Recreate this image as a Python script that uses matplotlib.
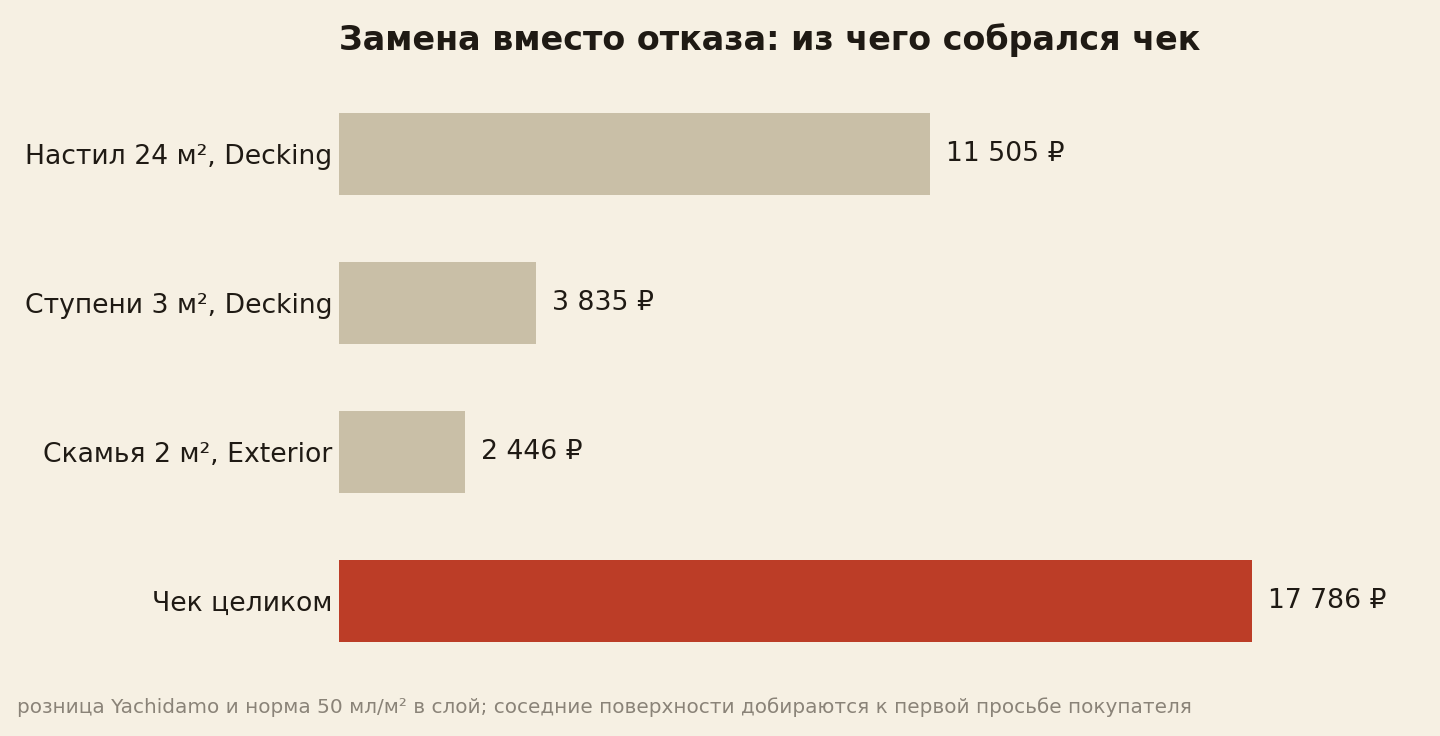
import matplotlib
matplotlib.use('Agg')
import matplotlib.pyplot as plt

plt.rcParams['font.family'] = ['DejaVu Sans']

labels = ['Настил 24 м², Decking', 'Ступени 3 м², Decking', 'Скамья 2 м², Exterior', 'Чек целиком']
values = [11505, 3835, 2446, 17786]
value_labels = ['11 505 ₽', '3 835 ₽', '2 446 ₽', '17 786 ₽']
colors = ['#c9bfa7', '#c9bfa7', '#c9bfa7', '#bc3d27']

bg = '#f6f0e3'
ink = '#1f1a14'

W, H = 1440, 736
fig = plt.figure(figsize=(W / 100, H / 100), dpi=100, facecolor=bg)

# оси: слева 339 px, шкала подобрана по длине самой длинной полосы
left_px, right_px = 339, 1380
top_px, bottom_px = 79.5, 675
ax = fig.add_axes([left_px / W, 1 - bottom_px / H, (right_px - left_px) / W, (bottom_px - top_px) / H])
ax.set_facecolor(bg)

y = list(range(len(labels)))
ax.barh(y, values, height=0.55, color=colors)
ax.set_ylim(3.5, -0.5)
ax.set_xlim(0, max(values) * 1.14)

for yi, v, t in zip(y, values, value_labels):
    ax.annotate(t, (v, yi), xytext=(16, 0), textcoords='offset pixels',
                ha='left', va='center', fontsize=19.2, color=ink)

ax.set_yticks(y)
ax.set_yticklabels(labels, fontsize=19.2, color=ink)
ax.tick_params(axis='y', length=0, pad=5)
ax.set_xticks([])
for s in ax.spines.values():
    s.set_visible(False)

fig.text(left_px / W, 1 - 40 / H, 'Замена вместо отказа: из чего собрался чек',
         fontsize=24, fontweight='bold', color=ink, ha='left', va='center')
fig.text(17 / W, 1 - 707 / H,
         'розница Yachidamo и норма 50 мл/м² в слой; соседние поверхности добираются к первой просьбе покупателя',
         fontsize=14.4, color='#8a8378', ha='left', va='center')

fig.savefig('out.png', dpi=100, facecolor=bg)
